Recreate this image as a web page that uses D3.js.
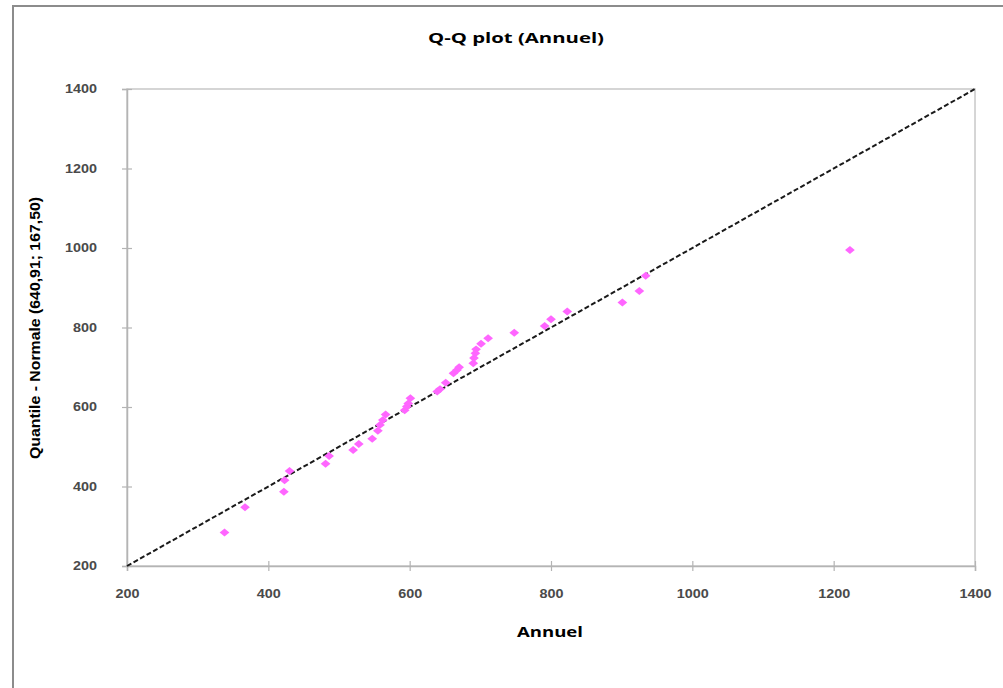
<!DOCTYPE html>
<html>
<head>
<meta charset="utf-8">
<script src="https://cdn.jsdelivr.net/npm/d3@7"></script>
<style>
  body { margin: 0; background: #fff; }
  svg { display: block; }
</style>
</head>
<body>
<div id="chart"></div>
<script>
// observed values (Annuel) and the matching normal quantiles
const annuel = [338, 367, 422, 423, 430, 481, 486, 520, 528, 547, 555, 558, 562, 566,
  593, 596, 598, 601, 639, 643, 651, 662, 667, 670, 690, 691, 693, 694, 701, 711,
  748, 791, 800, 823, 901, 925, 934, 1223];
const quantile = [284, 348, 387, 416, 439, 457, 477, 492, 507, 520, 540, 555, 567, 581,
  592, 601, 609, 622, 639, 645, 661, 685, 693, 700, 710, 723, 735, 745, 759, 773,
  787, 804, 821, 840, 863, 892, 930, 995];
const ticks = [200, 400, 600, 800, 1000, 1200, 1400];
const refLine = [200, 1400];

const width = 1003, height = 688;
const margin = { left: 127, right: 28, top: 89, bottom: 122 };

const svg = d3.select("#chart").append("svg")
  .attr("width", width)
  .attr("height", height);

// chart frame
svg.append("rect")
  .attr("x", 13).attr("y", 6)
  .attr("width", width + 10).attr("height", height + 10)
  .attr("fill", "none")
  .attr("stroke", "#8c8c8c")
  .attr("stroke-width", 2);

const x = d3.scaleLinear().domain([200, 1400]).range([margin.left, width - margin.right]);
const y = d3.scaleLinear().domain([200, 1400]).range([height - margin.bottom, margin.top]);

// plot area border
svg.append("rect")
  .attr("x", x(200)).attr("y", y(1400))
  .attr("width", x(1400) - x(200)).attr("height", y(200) - y(1400))
  .attr("fill", "none")
  .attr("stroke", "#c8c8c8")
  .attr("stroke-width", 1.5);

const xAxis = svg.append("g")
  .attr("transform", `translate(0,${y(200)})`)
  .call(d3.axisBottom(x).tickValues(ticks).tickSize(5).tickPadding(18).tickFormat(d3.format("d")));
xAxis.selectAll(".tick line").attr("y1", -5);

const yAxis = svg.append("g")
  .attr("transform", `translate(${x(200)},0)`)
  .call(d3.axisLeft(y).tickValues(ticks).tickSize(5).tickPadding(25).tickFormat(d3.format("d")));
yAxis.selectAll(".tick line").attr("x1", 5);

svg.selectAll(".domain").attr("stroke", "#b4b4b4").attr("stroke-width", 1.5);
svg.selectAll(".tick line").attr("stroke", "#b4b4b4").attr("stroke-width", 1.2);
svg.selectAll(".tick text")
  .attr("fill", "#4a4a4a")
  .attr("font-family", "Liberation Sans Narrow, Arial Narrow, sans-serif")
  .attr("font-weight", "bold")
  .attr("font-size", 12)
  .attr("textLength", d => String(d).length * 8)
  .attr("lengthAdjust", "spacingAndGlyphs");

// reference line y = x
svg.append("line")
  .attr("x1", x(refLine[0])).attr("y1", y(refLine[0]))
  .attr("x2", x(refLine[1])).attr("y2", y(refLine[1]))
  .attr("stroke", "#1a1a1a")
  .attr("stroke-width", 2)
  .attr("stroke-dasharray", "5,2.5");

// points
const diamond = d3.symbol().type(d3.symbolDiamond2).size(50);
svg.append("g").selectAll("path")
  .data(annuel.map((v, i) => [v, quantile[i]]))
  .join("path")
  .attr("d", diamond)
  .attr("transform", d => `translate(${x(d[0])},${y(d[1])}) scale(1.1,0.9)`)
  .attr("fill", "#ff66ff");

// titles
svg.append("text")
  .attr("x", 516).attr("y", 43)
  .attr("text-anchor", "middle")
  .attr("font-family", "Open Sans, sans-serif")
  .attr("font-weight", "bold")
  .attr("font-size", 15)
  .attr("textLength", 176)
  .attr("lengthAdjust", "spacingAndGlyphs")
  .attr("fill", "#000")
  .text("Q-Q plot (Annuel)");

svg.append("text")
  .attr("x", 550).attr("y", 637)
  .attr("text-anchor", "middle")
  .attr("font-family", "Open Sans, sans-serif")
  .attr("font-weight", "bold")
  .attr("font-size", 15)
  .attr("textLength", 66)
  .attr("lengthAdjust", "spacingAndGlyphs")
  .attr("fill", "#000")
  .text("Annuel");

svg.append("text")
  .attr("transform", "translate(40,328) rotate(-90)")
  .attr("text-anchor", "middle")
  .attr("font-family", "Liberation Sans Narrow, Arial Narrow, sans-serif")
  .attr("font-weight", "bold")
  .attr("font-size", 14)
  .attr("textLength", 262)
  .attr("lengthAdjust", "spacingAndGlyphs")
  .attr("fill", "#000")
  .text("Quantile - Normale (640,91; 167,50)");
</script>
</body>
</html>
